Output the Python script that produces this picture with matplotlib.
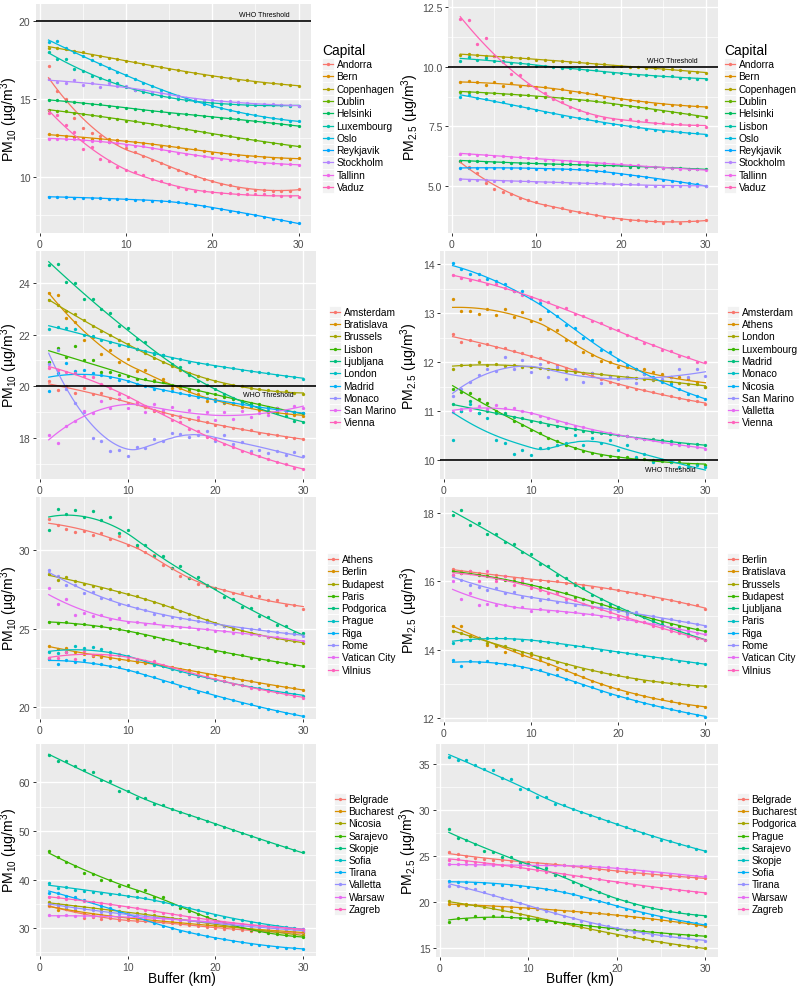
import numpy as np
import matplotlib
matplotlib.use("Agg")
import matplotlib.pyplot as plt
from matplotlib.patches import Rectangle

plt.rcParams["font.family"] = ["Liberation Sans", "DejaVu Sans"]
plt.rcParams["mathtext.fontset"] = "custom"
plt.rcParams["mathtext.rm"] = "Liberation Sans"
plt.rcParams["mathtext.it"] = "Liberation Sans:italic"

# ================= DATA =================

BUFFER_KM = list(range(1, 31))

# --- row 1 : PM10 ---
PM10_A_CAPITALS = ["Andorra", "Bern", "Copenhagen", "Dublin", "Helsinki", "Luxembourg",
                   "Oslo", "Reykjavik", "Stockholm", "Tallinn", "Vaduz"]
PM10_A = [
    [17.1, 15.5, 15.0, 13.8, 13.1, 12.8, 12.6, 12.2, 12.35, 11.85, 11.6, 11.35, 11.1, 10.9, 10.65,
     10.45, 10.25, 10.05, 9.85, 9.7, 9.55, 9.45, 9.25, 9.2, 9.15, 9.15, 9.1, 9.1, 9.1, 9.2],
    [12.75, 12.65, 12.6, 12.55, 12.5, 12.45, 12.45, 12.4, 12.35, 12.3, 12.2, 12.15, 12.1, 12.0, 11.95,
     11.9, 11.8, 11.75, 11.65, 11.55, 11.5, 11.45, 11.4, 11.35, 11.3, 11.25, 11.2, 11.2, 11.15, 11.2],
    [18.3, 18.3, 18.2, 18.1, 18.0, 17.85, 17.75, 17.65, 17.55, 17.45, 17.35, 17.25, 17.15, 17.05, 16.95,
     16.85, 16.75, 16.65, 16.55, 16.5, 16.4, 16.35, 16.25, 16.2, 16.1, 16.05, 16.0, 15.95, 15.9, 15.85],
    [14.3, 14.2, 14.2, 14.1, 14.05, 13.95, 13.9, 13.8, 13.7, 13.6, 13.55, 13.45, 13.4, 13.3, 13.25,
     13.15, 13.05, 12.95, 12.85, 12.75, 12.65, 12.6, 12.5, 12.4, 12.35, 12.25, 12.15, 12.1, 12.0, 11.95],
    [14.9, 14.9, 14.85, 14.8, 14.75, 14.7, 14.65, 14.55, 14.5, 14.4, 14.35, 14.3, 14.25, 14.2, 14.1,
     14.05, 14.0, 13.95, 13.9, 13.85, 13.8, 13.75, 13.7, 13.6, 13.55, 13.5, 13.45, 13.4, 13.3, 13.25],
    [18.0, 17.6, 17.55, 16.95, 16.8, 16.45, 16.35, 16.2, 16.0, 15.75, 15.6, 15.45, 15.3, 15.2, 15.1,
     15.0, 14.9, 14.85, 14.8, 14.75, 14.7, 14.65, 14.65, 14.6, 14.6, 14.6, 14.6, 14.6, 14.55, 14.55],
    [18.65, 18.7, 18.25, 18.0, 17.75, 17.5, 17.25, 17.0, 16.75, 16.55, 16.3, 16.05, 15.85, 15.6, 15.4,
     15.2, 15.05, 14.85, 14.7, 14.55, 14.4, 14.3, 14.15, 14.05, 13.95, 13.85, 13.75, 13.7, 13.6, 13.55],
    [8.7, 8.7, 8.7, 8.65, 8.65, 8.6, 8.6, 8.55, 8.55, 8.55, 8.5, 8.5, 8.45, 8.45, 8.4,
     8.35, 8.3, 8.2, 8.1, 8.0, 7.9, 7.8, 7.7, 7.6, 7.5, 7.4, 7.3, 7.2, 7.1, 7.0],
    [16.3, 16.1, 16.05, 16.2, 15.9, 16.05, 15.75, 16.0, 15.8, 15.85, 15.6, 15.6, 15.45, 15.4, 15.3,
     15.2, 15.05, 15.0, 14.95, 14.9, 14.85, 14.85, 14.8, 14.75, 14.7, 14.65, 14.65, 14.6, 14.6, 14.55],
    [12.45, 12.45, 12.4, 12.4, 12.35, 12.3, 12.3, 12.2, 12.15, 12.05, 12.0, 11.95, 11.85, 11.75, 11.65,
     11.55, 11.45, 11.4, 11.3, 11.2, 11.15, 11.1, 11.05, 11.0, 10.95, 10.9, 10.85, 10.8, 10.8, 10.75],
    [14.1, 13.95, 13.3, 12.85, 11.8, 11.9, 11.15, 11.0, 10.6, 10.45, 10.3, 10.1, 9.85, 9.7, 9.55,
     9.3, 9.2, 9.1, 9.05, 9.0, 8.95, 8.95, 8.9, 8.85, 8.85, 8.85, 8.8, 8.75, 8.75, 8.7],
]

# --- row 1 : PM2.5 ---
PM25_B_CAPITALS = ["Andorra", "Bern", "Copenhagen", "Dublin", "Helsinki", "Lisbon",
                   "Oslo", "Reykjavik", "Stockholm", "Tallinn", "Vaduz"]
PM25_B = [
    [6.05, 5.8, 5.55, 5.1, 4.85, 4.75, 4.65, 4.5, 4.4, 4.3, 4.2, 4.1, 4.05, 3.95, 3.9,
     3.85, 3.75, 3.7, 3.65, 3.6, 3.55, 3.55, 3.5, 3.5, 3.45, 3.5, 3.45, 3.5, 3.5, 3.55],
    [9.35, 9.4, 9.35, 9.25, 9.35, 9.2, 9.3, 9.2, 9.25, 9.15, 9.15, 9.05, 9.05, 8.95, 8.95,
     8.9, 8.85, 8.75, 8.7, 8.65, 8.6, 8.55, 8.5, 8.45, 8.45, 8.4, 8.4, 8.35, 8.35, 8.3],
    [10.5, 10.55, 10.5, 10.45, 10.45, 10.4, 10.4, 10.35, 10.35, 10.3, 10.3, 10.25, 10.25, 10.2, 10.2,
     10.15, 10.1, 10.1, 10.05, 10.05, 10.0, 10.0, 9.95, 9.95, 9.9, 9.9, 9.85, 9.8, 9.8, 9.75],
    [8.95, 8.95, 8.95, 8.9, 8.9, 8.85, 8.85, 8.8, 8.8, 8.75, 8.75, 8.7, 8.7, 8.65, 8.6,
     8.6, 8.55, 8.5, 8.45, 8.4, 8.35, 8.3, 8.25, 8.2, 8.15, 8.1, 8.05, 8.0, 7.95, 7.9],
    [6.05, 6.05, 6.05, 6.0, 6.0, 6.0, 5.95, 5.95, 5.95, 5.95, 5.9, 5.9, 5.9, 5.9, 5.9,
     5.85, 5.85, 5.85, 5.85, 5.85, 5.8, 5.8, 5.8, 5.8, 5.75, 5.75, 5.75, 5.7, 5.7, 5.7],
    [10.25, 10.4, 10.3, 10.35, 10.25, 10.25, 10.15, 10.15, 10.1, 10.05, 10.05, 10.0, 9.95, 9.95, 9.9,
     9.85, 9.85, 9.8, 9.75, 9.75, 9.7, 9.65, 9.65, 9.6, 9.6, 9.6, 9.55, 9.55, 9.5, 9.5],
    [8.75, 8.8, 8.7, 8.65, 8.55, 8.5, 8.4, 8.35, 8.25, 8.2, 8.1, 8.05, 7.95, 7.9, 7.85,
     7.8, 7.7, 7.65, 7.6, 7.55, 7.5, 7.45, 7.4, 7.35, 7.3, 7.3, 7.25, 7.2, 7.2, 7.15],
    [5.75, 5.75, 5.75, 5.75, 5.75, 5.75, 5.75, 5.75, 5.75, 5.7, 5.7, 5.7, 5.7, 5.7, 5.7,
     5.65, 5.6, 5.6, 5.55, 5.5, 5.45, 5.4, 5.35, 5.3, 5.25, 5.2, 5.15, 5.1, 5.05, 5.0],
    [5.3, 5.25, 5.25, 5.25, 5.2, 5.2, 5.2, 5.2, 5.2, 5.15, 5.15, 5.15, 5.15, 5.1, 5.1,
     5.1, 5.1, 5.1, 5.05, 5.05, 5.05, 5.05, 5.0, 5.0, 5.0, 5.0, 5.0, 5.0, 5.0, 5.0],
    [6.35, 6.35, 6.3, 6.3, 6.25, 6.25, 6.2, 6.2, 6.15, 6.15, 6.1, 6.1, 6.05, 6.05, 6.0,
     6.0, 5.95, 5.95, 5.9, 5.9, 5.85, 5.85, 5.8, 5.8, 5.75, 5.75, 5.7, 5.7, 5.7, 5.65],
    [12.0, 11.95, 10.95, 11.2, 10.45, 10.2, 9.7, 9.65, 9.25, 9.1, 8.9, 8.65, 8.5, 8.3, 8.2,
     8.05, 7.95, 7.85, 7.8, 7.75, 7.8, 7.7, 7.75, 7.65, 7.65, 7.6, 7.6, 7.55, 7.55, 7.45],
]

# --- row 2 : PM10 ---
PM10_C_CAPITALS = ["Amsterdam", "Bratislava", "Brussels", "Lisbon", "Ljubljana",
                   "London", "Madrid", "Monaco", "San Marino", "Vienna"]
PM10_C = [
    [20.2, 19.85, 20.0, 19.75, 19.95, 19.7, 19.75, 19.55, 19.5, 19.35, 19.3, 19.2, 19.05, 19.0, 18.9,
     18.8, 18.75, 18.7, 18.6, 18.5, 18.45, 18.4, 18.35, 18.3, 18.2, 18.15, 18.1, 18.05, 18.0, 17.95],
    [23.6, 23.55, 22.65, 22.5, 21.8, 21.9, 21.25, 21.4, 20.95, 21.05, 20.6, 20.65, 20.25, 20.3, 19.95,
     19.95, 19.8, 19.7, 19.45, 19.5, 19.35, 19.3, 19.2, 19.2, 19.1, 19.0, 19.0, 18.95, 18.9, 18.85],
    [23.35, 23.15, 22.9, 22.8, 22.55, 22.35, 22.15, 22.0, 21.8, 21.65, 21.45, 21.3, 21.1, 20.95, 20.8,
     20.65, 20.5, 20.4, 20.3, 20.2, 20.1, 20.05, 20.0, 19.95, 19.9, 19.85, 19.8, 19.8, 19.75, 19.7],
    [20.95, 21.5, 21.15, 21.55, 21.0, 21.0, 20.55, 20.55, 20.45, 20.4, 20.3, 20.3, 20.2, 20.15, 20.05,
     20.0, 19.9, 19.85, 19.75, 19.7, 19.6, 19.5, 19.45, 19.35, 19.3, 19.2, 19.15, 19.05, 19.0, 18.95],
    [24.7, 24.75, 24.05, 24.0, 23.4, 23.4, 23.0, 22.85, 22.35, 22.25, 21.85, 21.7, 21.25, 21.2, 20.85,
     20.75, 20.45, 20.2, 20.05, 19.9, 19.7, 19.55, 19.4, 19.3, 19.15, 19.05, 18.95, 18.85, 18.65, 18.6],
    [22.2, 22.3, 22.25, 22.2, 22.0, 21.95, 21.8, 21.7, 21.6, 21.55, 21.45, 21.35, 21.3, 21.2, 21.1,
     21.05, 20.95, 20.9, 20.85, 20.8, 20.75, 20.7, 20.65, 20.6, 20.55, 20.5, 20.45, 20.4, 20.35, 20.3],
    [19.8, 20.5, 20.9, 20.6, 20.65, 20.5, 20.45, 20.35, 20.25, 20.2, 20.1, 20.0, 19.9, 19.85, 19.8,
     19.75, 19.65, 19.6, 19.55, 19.45, 19.4, 19.35, 19.3, 19.25, 19.2, 19.15, 19.1, 19.05, 19.0, 18.95],
    [20.85, 21.4, 19.9, 19.35, 19.0, 18.0, 17.9, 17.5, 17.55, 17.3, 17.65, 17.6, 17.95, 17.9, 18.2,
     18.15, 18.05, 18.1, 18.25, 17.9, 18.1, 17.75, 17.85, 17.5, 17.55, 17.4, 17.5, 17.35, 17.45, 17.3],
    [18.1, 17.8, 18.45, 18.65, 19.05, 18.95, 19.45, 19.15, 19.5, 19.15, 19.35, 19.0, 19.3, 19.1, 19.2,
     18.85, 19.1, 18.8, 19.0, 18.7, 19.0, 18.75, 19.05, 18.8, 18.95, 18.9, 19.15, 19.05, 19.25, 19.15],
    [20.7, 20.65, 20.55, 20.5, 20.4, 20.35, 20.1, 19.95, 19.7, 19.6, 19.4, 19.25, 19.1, 18.95, 18.7,
     18.6, 18.35, 18.25, 18.05, 17.95, 17.75, 17.65, 17.5, 17.4, 17.3, 17.2, 17.05, 17.0, 16.85, 16.8],
]

# --- row 2 : PM2.5 ---
PM25_D_CAPITALS = ["Amsterdam", "Athens", "London", "Luxembourg", "Madrid",
                   "Monaco", "Nicosia", "San Marino", "Valletta", "Vienna"]
PM25_D = [
    [12.58, 12.42, 12.45, 12.35, 12.37, 12.3, 12.28, 12.22, 12.18, 12.12, 12.08, 12.0, 11.95, 11.88, 11.83,
     11.77, 11.72, 11.65, 11.6, 11.55, 11.5, 11.45, 11.42, 11.38, 11.35, 11.3, 11.27, 11.22, 11.2, 11.15],
    [13.28, 13.05, 13.05, 12.98, 13.08, 12.97, 13.08, 12.92, 13.02, 12.83, 12.87, 12.68, 12.65, 12.45, 12.4,
     12.2, 12.15, 12.02, 12.0, 11.9, 11.9, 11.85, 11.85, 11.8, 11.75, 11.7, 11.7, 11.65, 11.6, 11.5],
    [11.85, 11.95, 11.95, 12.0, 11.95, 11.97, 11.92, 11.95, 11.9, 11.9, 11.87, 11.85, 11.85, 11.82, 11.8,
     11.78, 11.77, 11.75, 11.72, 11.7, 11.7, 11.68, 11.65, 11.63, 11.62, 11.6, 11.58, 11.55, 11.55, 11.5],
    [11.45, 11.38, 11.37, 11.25, 11.17, 11.0, 10.93, 10.8, 10.72, 10.62, 10.55, 10.45, 10.38, 10.3, 10.25,
     10.18, 10.15, 10.1, 10.08, 10.05, 10.05, 10.03, 10.02, 10.0, 9.98, 9.95, 9.95, 9.92, 9.92, 9.9],
    [11.15, 11.0, 11.2, 10.95, 11.0, 10.95, 10.95, 10.88, 10.85, 10.8, 10.78, 10.72, 10.7, 10.65, 10.63,
     10.6, 10.58, 10.55, 10.53, 10.5, 10.48, 10.45, 10.43, 10.42, 10.4, 10.38, 10.35, 10.33, 10.32, 10.3],
    [10.4, 11.0, 11.15, 10.95, 10.85, 10.4, 10.35, 10.12, 10.2, 10.1, 10.25, 10.25, 10.3, 10.35, 10.5,
     10.3, 10.45, 10.35, 10.4, 10.2, 10.3, 10.05, 10.12, 9.95, 10.0, 9.95, 9.85, 9.85, 9.9, 9.85],
    [14.03, 13.9, 13.8, 13.8, 13.7, 13.65, 13.6, 13.45, 13.45, 13.3, 13.2, 13.05, 12.95, 12.75, 12.7,
     12.5, 12.45, 12.25, 12.2, 12.05, 11.95, 11.85, 11.75, 11.7, 11.6, 11.55, 11.45, 11.35, 11.3, 11.25],
    [11.3, 11.44, 11.59, 11.73, 11.85, 11.82, 12.1, 11.85, 12.05, 11.8, 11.97, 11.7, 11.9, 11.65, 11.85,
     11.6, 11.78, 11.57, 11.7, 11.65, 11.7, 11.58, 11.75, 11.65, 11.65, 11.7, 11.85, 11.7, 11.85, 11.72],
    [10.97, 11.05, 11.02, 11.1, 11.05, 11.13, 11.07, 11.07, 11.0, 10.95, 10.9, 10.85, 10.8, 10.75, 10.7,
     10.68, 10.62, 10.58, 10.55, 10.5, 10.48, 10.45, 10.42, 10.4, 10.37, 10.33, 10.3, 10.28, 10.27, 10.23],
    [13.78, 13.72, 13.68, 13.67, 13.6, 13.6, 13.52, 13.45, 13.38, 13.33, 13.27, 13.22, 13.12, 13.1, 12.98,
     12.95, 12.83, 12.8, 12.7, 12.65, 12.55, 12.5, 12.38, 12.35, 12.25, 12.22, 12.12, 12.1, 12.0, 12.0],
]

# --- row 3 : PM10 ---
PM10_E_CAPITALS = ["Athens", "Berlin", "Budapest", "Paris", "Podgorica",
                   "Prague", "Riga", "Rome", "Vatican City", "Vilnius"]
PM10_E = [
    [32.0, 31.6, 31.35, 31.15, 31.2, 30.95, 31.1, 30.7, 30.9, 30.35, 30.2, 29.85, 29.7, 29.05, 28.85,
     28.35, 28.25, 27.85, 27.7, 27.6, 27.45, 27.3, 27.3, 27.05, 27.1, 26.8, 26.85, 26.5, 26.5, 26.25],
    [23.9, 23.7, 23.8, 23.5, 23.4, 23.25, 23.2, 23.15, 23.1, 23.0, 22.9, 22.85, 22.75, 22.65, 22.55,
     22.45, 22.35, 22.25, 22.15, 22.05, 21.95, 21.85, 21.75, 21.65, 21.55, 21.45, 21.35, 21.3, 21.2, 21.1],
    [28.5, 28.1, 28.3, 28.0, 27.85, 27.7, 27.6, 27.5, 27.35, 27.2, 27.05, 26.9, 26.7, 26.5, 26.35,
     26.15, 25.95, 25.75, 25.55, 25.35, 25.15, 25.0, 24.85, 24.7, 24.6, 24.5, 24.4, 24.3, 24.2, 24.1],
    [25.4, 25.35, 25.45, 25.3, 25.3, 25.2, 25.15, 25.05, 25.0, 24.85, 24.75, 24.6, 24.5, 24.35, 24.25,
     24.1, 24.0, 23.85, 23.75, 23.6, 23.5, 23.4, 23.3, 23.15, 23.1, 23.0, 22.9, 22.8, 22.7, 22.6],
    [31.3, 32.6, 32.3, 32.55, 32.1, 32.5, 31.9, 32.1, 31.1, 31.3, 30.3, 30.35, 29.6, 29.65, 28.85,
     29.0, 28.25, 28.3, 27.75, 27.6, 27.0, 26.9, 26.4, 26.3, 25.8, 25.75, 25.25, 25.2, 24.7, 24.7],
    [23.5, 23.45, 23.5, 23.9, 23.8, 23.85, 23.7, 23.55, 23.3, 23.25, 23.0, 22.95, 22.7, 22.6, 22.45,
     22.3, 22.1, 22.0, 21.9, 21.75, 21.65, 21.5, 21.4, 21.3, 21.2, 21.1, 21.0, 20.95, 20.85, 20.75],
    [23.05, 22.75, 23.0, 22.9, 23.0, 22.85, 22.75, 22.6, 22.55, 22.35, 22.25, 22.05, 21.9, 21.65, 21.6,
     21.35, 21.25, 21.0, 20.95, 20.75, 20.6, 20.45, 20.3, 20.2, 20.0, 19.9, 19.75, 19.65, 19.55, 19.45],
    [28.7, 28.35, 27.8, 27.75, 27.3, 27.35, 26.95, 26.9, 26.55, 26.5, 26.3, 26.2, 25.95, 25.9, 25.75,
     25.7, 25.6, 25.5, 25.4, 25.3, 25.2, 25.1, 25.05, 25.0, 24.95, 24.85, 24.8, 24.7, 24.65, 24.55],
    [27.6, 26.55, 26.9, 25.9, 26.0, 25.8, 25.85, 25.6, 25.65, 25.45, 25.45, 25.3, 25.35, 25.15, 25.2,
     25.1, 25.1, 24.95, 25.0, 24.85, 24.85, 24.75, 24.75, 24.65, 24.6, 24.5, 24.45, 24.35, 24.3, 24.2],
    [23.15, 23.15, 23.55, 23.1, 23.6, 23.3, 23.3, 23.35, 23.4, 23.2, 23.05, 22.95, 22.95, 22.7, 22.5,
     22.4, 22.2, 22.05, 21.9, 21.8, 21.65, 21.5, 21.4, 21.25, 21.15, 21.05, 20.95, 20.85, 20.75, 20.6],
]

# --- row 3 : PM2.5 ---
PM25_F_CAPITALS = ["Berlin", "Bratislava", "Brussels", "Budapest", "Ljubljana",
                   "Paris", "Riga", "Rome", "Vatican City", "Vilnius"]
PM25_F = [
    [16.35, 16.3, 16.3, 16.25, 16.2, 16.2, 16.15, 16.1, 16.1, 16.05, 16.05, 16.0, 16.0, 15.95, 15.95,
     15.9, 15.85, 15.8, 15.8, 15.75, 15.7, 15.65, 15.6, 15.55, 15.5, 15.45, 15.4, 15.35, 15.3, 15.2],
    [14.7, 14.7, 14.4, 14.35, 14.15, 14.1, 13.95, 14.0, 13.85, 13.85, 13.7, 13.6, 13.45, 13.4, 13.3,
     13.2, 13.1, 13.0, 12.9, 12.85, 12.75, 12.7, 12.65, 12.6, 12.55, 12.5, 12.45, 12.4, 12.35, 12.33],
    [14.55, 14.5, 14.4, 14.35, 14.2, 14.15, 14.1, 14.0, 13.95, 13.9, 13.8, 13.75, 13.65, 13.6, 13.5,
     13.45, 13.4, 13.35, 13.3, 13.25, 13.2, 13.15, 13.1, 13.08, 13.05, 13.02, 13.0, 12.98, 12.95, 12.93],
    [16.3, 16.25, 16.25, 16.2, 16.15, 16.1, 16.05, 16.0, 15.95, 15.9, 15.85, 15.8, 15.7, 15.65, 15.55,
     15.5, 15.4, 15.35, 15.25, 15.2, 15.1, 15.05, 14.95, 14.9, 14.85, 14.75, 14.7, 14.65, 14.6, 14.55],
    [17.95, 18.1, 17.65, 17.7, 17.4, 17.4, 17.15, 17.1, 16.85, 16.8, 16.5, 16.45, 16.2, 16.1, 15.9,
     15.8, 15.6, 15.5, 15.35, 15.25, 15.15, 15.05, 14.95, 14.85, 14.75, 14.65, 14.55, 14.45, 14.35, 14.3],
    [14.2, 14.3, 14.3, 14.35, 14.35, 14.35, 14.35, 14.33, 14.3, 14.28, 14.25, 14.22, 14.2, 14.15, 14.12,
     14.1, 14.05, 14.0, 13.98, 13.93, 13.9, 13.87, 13.83, 13.8, 13.75, 13.72, 13.68, 13.65, 13.62, 13.58],
    [13.7, 13.52, 13.67, 13.65, 13.67, 13.63, 13.6, 13.55, 13.5, 13.45, 13.4, 13.3, 13.25, 13.15, 13.07,
     12.97, 12.9, 12.8, 12.72, 12.65, 12.58, 12.5, 12.45, 12.38, 12.32, 12.27, 12.22, 12.15, 12.1, 12.05],
    [16.2, 16.05, 15.9, 15.85, 15.75, 15.8, 15.65, 15.7, 15.55, 15.55, 15.45, 15.5, 15.4, 15.4, 15.3,
     15.35, 15.25, 15.25, 15.2, 15.15, 15.05, 15.1, 15.0, 15.0, 14.9, 14.9, 14.85, 14.8, 14.75, 14.7],
    [16.0, 15.5, 15.65, 15.3, 15.35, 15.3, 15.3, 15.25, 15.25, 15.15, 15.2, 15.15, 15.15, 15.1, 15.1,
     15.05, 15.05, 15.0, 14.95, 14.9, 14.9, 14.85, 14.8, 14.75, 14.7, 14.65, 14.6, 14.55, 14.5, 14.45],
    [16.2, 16.25, 16.3, 16.0, 16.3, 16.0, 16.15, 15.9, 16.0, 15.8, 15.75, 15.65, 15.65, 15.5, 15.45,
     15.35, 15.25, 15.2, 15.1, 15.0, 14.95, 14.85, 14.8, 14.7, 14.65, 14.55, 14.5, 14.4, 14.35, 14.3],
]

# --- row 4 : PM10 ---
PM10_G_CAPITALS = ["Belgrade", "Bucharest", "Nicosia", "Sarajevo", "Skopje",
                   "Sofia", "Tirana", "Valletta", "Warsaw", "Zagreb"]
PM10_G = [
    [34.5, 34.3, 34.0, 33.7, 32.0, 32.3, 31.8, 32.1, 31.6, 31.7, 31.5, 31.4, 31.3, 31.2, 31.0,
     30.8, 30.6, 30.4, 30.3, 30.1, 29.9, 29.8, 29.6, 29.5, 29.4, 29.3, 29.2, 29.1, 29.0, 28.9],
    [34.8, 33.7, 33.9, 33.6, 33.1, 32.9, 32.7, 32.4, 32.3, 32.1, 31.9, 31.7, 31.6, 31.4, 31.3,
     31.1, 30.9, 30.8, 30.6, 30.4, 30.3, 30.1, 30.0, 29.8, 29.7, 29.6, 29.5, 29.3, 29.2, 29.1],
    [35.3, 34.9, 34.8, 34.5, 34.4, 34.1, 33.9, 33.6, 33.5, 33.2, 33.1, 32.8, 32.6, 32.3, 32.1,
     31.8, 31.5, 31.3, 31.0, 30.8, 30.5, 30.3, 30.0, 29.8, 29.6, 29.3, 29.1, 28.9, 28.7, 28.5],
    [45.9, 44.6, 43.7, 42.8, 41.4, 41.2, 39.8, 39.8, 38.6, 38.9, 37.7, 37.9, 36.5, 36.3, 35.0,
     34.2, 33.6, 33.0, 32.2, 31.6, 31.0, 30.5, 30.1, 29.7, 29.3, 29.0, 28.8, 28.5, 28.3, 28.1],
    [65.6, 64.3, 64.5, 63.3, 62.5, 62.2, 60.4, 60.3, 58.3, 58.3, 56.8, 56.7, 55.6, 55.3, 54.5,
     53.9, 53.3, 52.7, 52.1, 51.5, 50.9, 50.2, 49.6, 49.0, 48.3, 47.7, 47.1, 46.6, 46.0, 45.6],
    [39.3, 38.3, 38.4, 37.9, 37.7, 37.4, 37.3, 37.0, 37.0, 36.6, 36.5, 36.1, 35.7, 35.3, 34.9,
     34.5, 34.2, 33.7, 33.2, 32.7, 32.3, 31.9, 31.6, 31.3, 31.0, 30.7, 30.4, 30.2, 30.0, 29.8],
    [37.3, 37.2, 36.6, 36.4, 35.8, 35.4, 34.6, 34.1, 33.4, 32.9, 32.2, 31.6, 31.0, 30.5, 30.0,
     29.5, 29.1, 28.7, 28.3, 28.0, 27.7, 27.4, 27.1, 26.8, 26.6, 26.4, 26.2, 26.0, 25.8, 25.7],
    [35.0, 34.7, 34.4, 34.2, 33.9, 33.7, 33.4, 33.2, 33.0, 32.8, 32.6, 32.4, 32.2, 32.1, 31.9,
     31.7, 31.5, 31.3, 31.2, 31.0, 30.8, 30.6, 30.5, 30.3, 30.1, 30.0, 29.9, 29.7, 29.6, 29.5],
    [32.6, 32.4, 32.6, 32.5, 32.5, 32.5, 32.4, 32.4, 32.3, 32.3, 32.2, 32.1, 32.0, 31.9, 31.8,
     31.7, 31.6, 31.5, 31.3, 31.2, 31.1, 30.9, 30.8, 30.6, 30.5, 30.3, 30.2, 30.0, 29.9, 29.8],
    [36.3, 36.4, 36.0, 35.9, 35.6, 35.4, 35.1, 34.9, 34.6, 34.4, 34.1, 33.8, 33.5, 33.2, 32.9,
     32.6, 32.3, 32.0, 31.8, 31.5, 31.3, 31.1, 30.9, 30.7, 30.5, 30.3, 30.2, 30.0, 29.8, 29.7],
]

# --- row 4 : PM2.5 ---
PM25_H_CAPITALS = ["Belgrade", "Bucharest", "Podgorica", "Prague", "Sarajevo",
                   "Skopje", "Sofia", "Tirana", "Warsaw", "Zagreb"]
PM25_H = [
    [25.4, 25.2, 25.0, 24.8, 24.7, 24.6, 24.6, 24.5, 24.4, 24.4, 24.3, 24.2, 24.1, 24.0, 23.9,
     23.8, 23.7, 23.6, 23.5, 23.4, 23.3, 23.2, 23.1, 23.0, 23.0, 22.9, 22.8, 22.7, 22.65, 22.6],
    [19.8, 19.7, 19.8, 19.7, 19.6, 19.6, 19.5, 19.5, 19.4, 19.4, 19.3, 19.2, 19.2, 19.1, 19.0,
     18.9, 18.85, 18.8, 18.7, 18.6, 18.5, 18.4, 18.3, 18.2, 18.1, 17.95, 17.85, 17.7, 17.55, 17.4],
    [20.1, 19.8, 19.7, 19.7, 19.5, 19.4, 19.2, 19.0, 18.7, 18.5, 18.3, 18.1, 17.9, 17.7, 17.5,
     17.3, 17.1, 16.9, 16.7, 16.5, 16.3, 16.2, 16.0, 15.8, 15.7, 15.5, 15.35, 15.25, 15.1, 15.0],
    [17.9, 18.3, 18.2, 18.5, 18.3, 18.5, 18.5, 18.4, 18.3, 18.2, 18.1, 18.0, 17.9, 17.8, 17.6,
     17.5, 17.4, 17.3, 17.2, 17.1, 17.0, 16.95, 16.85, 16.75, 16.7, 16.6, 16.5, 16.45, 16.4, 16.3],
    [27.9, 27.0, 26.8, 26.3, 25.6, 25.4, 24.9, 24.9, 24.3, 24.2, 23.8, 23.7, 23.0, 22.9, 22.2,
     21.9, 21.4, 21.1, 20.7, 20.4, 20.1, 19.8, 19.5, 19.4, 19.2, 19.0, 18.9, 18.75, 18.6, 18.5],
    [35.8, 35.4, 35.4, 34.9, 34.5, 34.4, 33.5, 33.4, 32.3, 32.3, 31.4, 31.4, 30.7, 30.6, 30.1,
     29.8, 29.5, 29.1, 28.8, 28.5, 28.2, 27.8, 27.5, 27.2, 26.8, 26.6, 26.3, 26.1, 25.8, 25.6],
    [22.3, 22.2, 22.2, 22.1, 22.1, 22.0, 21.9, 21.9, 21.8, 21.7, 21.6, 21.4, 21.3, 21.1, 20.9,
     20.6, 20.4, 20.1, 19.9, 19.6, 19.3, 19.1, 18.8, 18.6, 18.4, 18.2, 18.0, 17.9, 17.7, 17.6],
    [21.8, 21.8, 21.6, 21.4, 21.1, 20.8, 20.5, 20.2, 19.9, 19.6, 19.4, 19.1, 18.8, 18.5, 18.3,
     18.0, 17.8, 17.6, 17.4, 17.2, 17.0, 16.8, 16.7, 16.5, 16.4, 16.3, 16.2, 16.1, 15.95, 15.8],
    [24.1, 24.1, 24.1, 24.05, 24.1, 24.0, 24.0, 24.0, 24.0, 24.0, 24.0, 24.0, 24.0, 24.0, 23.9,
     23.9, 23.9, 23.8, 23.8, 23.7, 23.6, 23.5, 23.4, 23.3, 23.2, 23.1, 23.0, 22.9, 22.85, 22.8],
    [24.6, 24.7, 24.5, 24.4, 24.3, 24.2, 24.0, 23.9, 23.8, 23.6, 23.5, 23.3, 23.2, 23.1, 22.9,
     22.8, 22.6, 22.5, 22.3, 22.2, 22.1, 21.9, 21.8, 21.7, 21.6, 21.4, 21.3, 21.2, 21.15, 21.05],
]

WHO_PM10 = 20
WHO_PM25 = 10

# ================= STYLE =================

HUE_11 = ["#F8766D", "#DB8E00", "#AEA200", "#64B200", "#00BD5C", "#00C1A7",
          "#00BADE", "#00A6FF", "#B385FF", "#EF67EB", "#FF63B6"]
HUE_10 = ["#F8766D", "#D89000", "#A3A500", "#39B600", "#00BF7D", "#00BFC4",
          "#00B0F6", "#9590FF", "#E76BF3", "#FF62BC"]

W, H = 798, 987
PANEL_BG = "#EBEBEB"
TICK_COL = "#4D4D4D"
LAB_PM10 = "PM$_{10}$ (µg/m$^{3}$)"
LAB_PM25 = "PM$_{2.5}$ (µg/m$^{3}$)"


def loess(x, y, xs, span=0.75):
    # local quadratic fit with tricube weights (geom_smooth default)
    x = np.asarray(x, float)
    y = np.asarray(y, float)
    q = int(np.floor(len(x) * span))
    out = []
    for x0 in xs:
        d = np.abs(x - x0)
        h = np.sort(d)[q - 1]
        w = np.clip(1 - (d / h) ** 3, 0, None) ** 3
        X = np.vstack([np.ones_like(x), x - x0, (x - x0) ** 2]).T
        sw = np.sqrt(w)
        beta = np.linalg.lstsq(X * sw[:, None], y * sw, rcond=None)[0]
        out.append(beta[0])
    return np.array(out)


def px_axes(fig, left, top, right, bottom):
    return fig.add_axes([left / W, 1 - bottom / H, (right - left) / W, (bottom - top) / H])


fig = plt.figure(figsize=(W / 100, H / 100), dpi=100)
ov = fig.add_axes([0, 0, 1, 1], zorder=10)
ov.set_xlim(0, W)
ov.set_ylim(H, 0)
ov.set_axis_off()


def draw_panel(box, values, colors, ylim, yticks, ymaj_fmt, ylabel, ylab_x,
               who=None, who_text_y=None):
    left, top, right, bottom = box
    ax = px_axes(fig, left, top, right, bottom)
    ax.set_facecolor(PANEL_BG)
    for s in ax.spines.values():
        s.set_visible(False)
    ax.set_xlim(-0.45, 31.45)
    ax.set_xticks([0, 10, 20, 30])
    ax.set_xticks([5, 15, 25], minor=True)
    ax.set_yticks(yticks)
    ax.set_yticklabels([ymaj_fmt.format(v) for v in yticks])
    ax.set_yticks([(a + b) / 2 for a, b in zip(yticks[:-1], yticks[1:])] +
                  [yticks[0] - (yticks[1] - yticks[0]) / 2], minor=True)
    ax.set_ylim(*ylim)
    ax.grid(True, which="major", color="white", lw=1.0)
    ax.grid(True, which="minor", color="white", lw=0.5)
    ax.set_axisbelow(True)
    ax.tick_params(which="major", length=2.5, width=0.7, color="#333333",
                   labelsize=7.5, labelcolor=TICK_COL, pad=1.5)
    ax.tick_params(which="minor", length=0)

    xs = np.linspace(1, 30, 120)
    for vals, col in zip(values, colors):
        ax.plot(BUFFER_KM, vals, "o", color=col, ms=2.4, mec="none", zorder=3)
        ax.plot(xs, loess(BUFFER_KM, vals, xs), color=col, lw=0.9, zorder=4)

    if who is not None:
        ax.axhline(who, color="black", lw=1.2, zorder=5)
        ax.text(26, who_text_y, "WHO Threshold", fontsize=5, ha="center", va="center", zorder=6)

    fig.text(ylab_x / W, 1 - (top + bottom) / 2 / H, ylabel, rotation=90,
             ha="center", va="center", fontsize=10.2)
    return ax


def draw_legend(names, colors, key_x, y0, step=12.3, title=None):
    key_w = 12
    if title:
        ov.text(key_x, y0 - 13.5, title, fontsize=9.9, ha="left", va="center")
    for i, (n, c) in enumerate(zip(names, colors)):
        yc = y0 + i * step
        ov.add_patch(Rectangle((key_x, yc - step / 2), key_w, step, fc="#F2F2F2",
                               ec="white", lw=0.6))
        ov.plot([key_x + 1, key_x + key_w - 1], [yc, yc], color=c, lw=0.9)
        ov.plot([key_x + key_w / 2], [yc], "o", color=c, ms=2.4, mec="none")
        ov.text(key_x + key_w + 2.5, yc, n, fontsize=7.3, ha="left", va="center")


# ================= PANELS =================

draw_panel((36, 5, 311, 234), PM10_A, HUE_11, (6.37, 21.11), [10, 15, 20], "{:g}",
           LAB_PM10, 9, WHO_PM10, 20.43)
draw_legend(PM10_A_CAPITALS, HUE_11, 322, 65, title="Capital")

draw_panel((448, 1, 718, 234), PM25_B, HUE_11, (3.01, 12.81), [5.0, 7.5, 10.0, 12.5], "{:.1f}",
           LAB_PM25, 410, WHO_PM25, 10.28)
draw_legend(PM25_B_CAPITALS, HUE_11, 724, 65, title="Capital")

draw_panel((36, 252, 316, 480), PM10_C, HUE_10, (16.41, 25.24), [18, 20, 22, 24], "{:g}",
           LAB_PM10, 9, WHO_PM10, 19.67)
draw_legend(PM10_C_CAPITALS, HUE_10, 329, 312.7)

draw_panel((440, 252, 718, 480), PM25_D, HUE_10, (9.61, 14.27), [10, 11, 12, 13, 14], "{:g}",
           LAB_PM25, 409, WHO_PM25, 9.80)
draw_legend(PM25_D_CAPITALS, HUE_10, 727, 312.7)

draw_panel((36, 498, 316, 720), PM10_E, HUE_10, (19.26, 33.37), [20, 25, 30], "{:g}",
           LAB_PM10, 9)
draw_legend(PM10_E_CAPITALS, HUE_10, 327, 560)

draw_panel((440, 498, 718, 723), PM25_F, HUE_10, (11.89, 18.47), [12, 14, 16, 18], "{:g}",
           LAB_PM25, 409)
draw_legend(PM25_F_CAPITALS, HUE_10, 727, 560)

draw_panel((36, 745, 316, 957), PM10_G, HUE_10, (24.25, 67.9), [30, 40, 50, 60], "{:g}",
           LAB_PM10, 9)
draw_legend(PM10_G_CAPITALS, HUE_10, 334, 800, step=12.2)

draw_panel((436, 745, 718, 958), PM25_H, HUE_10, (14.06, 37.17), [15, 20, 25, 30, 35], "{:g}",
           LAB_PM25, 408)
draw_legend(PM25_H_CAPITALS, HUE_10, 737, 800, step=12.2)

fig.text(182 / W, 1 - 979 / H, "Buffer (km)", ha="center", va="center", fontsize=9.9)
fig.text(580 / W, 1 - 979 / H, "Buffer (km)", ha="center", va="center", fontsize=9.9)

fig.savefig("out.png", dpi=100)
